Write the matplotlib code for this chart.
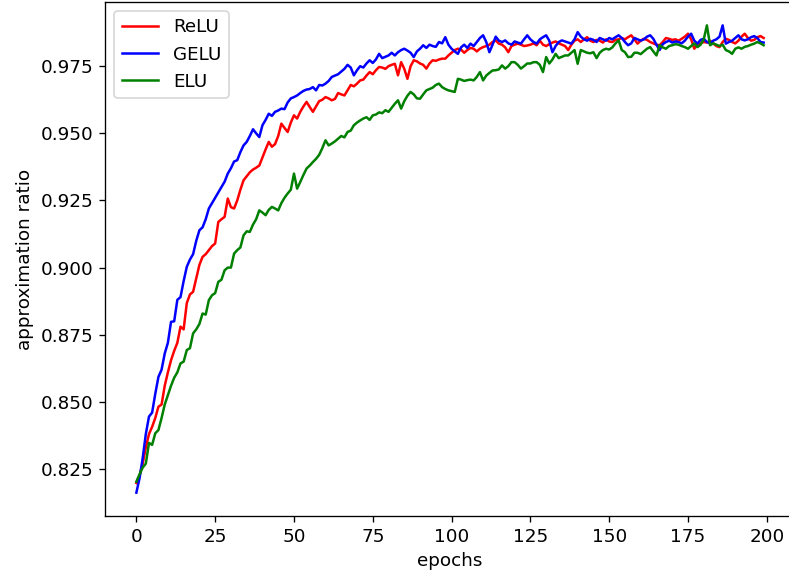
import numpy as np
import matplotlib
matplotlib.use("Agg")
import matplotlib.pyplot as plt

relu = [0.8198, 0.8225, 0.8270, 0.8330, 0.8380, 0.8407, 0.8440, 0.8482, 0.8490, 0.8560,
        0.8610, 0.8655, 0.8690, 0.8720, 0.8780, 0.8770, 0.8868, 0.8900, 0.8910, 0.8960,
        0.9010, 0.9040, 0.9050, 0.9065, 0.9080, 0.9090, 0.9170, 0.9180, 0.9189, 0.9257,
        0.9225, 0.9220, 0.9250, 0.9290, 0.9325, 0.9340, 0.9355, 0.9365, 0.9372, 0.9380,
        0.9410, 0.9440, 0.9468, 0.9450, 0.9460, 0.9490, 0.9536, 0.9520, 0.9505, 0.9540,
        0.9567, 0.9555, 0.9580, 0.9600, 0.9617, 0.9598, 0.9580, 0.9600, 0.9620, 0.9625,
        0.9635, 0.9630, 0.9623, 0.9628, 0.9650, 0.9645, 0.9641, 0.9660, 0.9680, 0.9675,
        0.9685, 0.9697, 0.9700, 0.9715, 0.9728, 0.9720, 0.9735, 0.9747, 0.9745, 0.9740,
        0.9750, 0.9755, 0.9759, 0.9716, 0.9765, 0.9740, 0.9703, 0.9750, 0.9772, 0.9768,
        0.9760, 0.9755, 0.9741, 0.9760, 0.9772, 0.9770, 0.9775, 0.9778, 0.9778, 0.9790,
        0.9800, 0.9810, 0.9815, 0.9812, 0.9800, 0.9810, 0.9818, 0.9815, 0.9805, 0.9815,
        0.9821, 0.9825, 0.9830, 0.9840, 0.9846, 0.9834, 0.9830, 0.9820, 0.9802, 0.9825,
        0.9830, 0.9834, 0.9830, 0.9825, 0.9827, 0.9830, 0.9835, 0.9828, 0.9845, 0.9830,
        0.9825, 0.9832, 0.9838, 0.9842, 0.9835, 0.9830, 0.9825, 0.9810, 0.9830, 0.9845,
        0.9850, 0.9840, 0.9850, 0.9858, 0.9845, 0.9840, 0.9848, 0.9845, 0.9838, 0.9850,
        0.9842, 0.9840, 0.9848, 0.9850, 0.9855, 0.9850, 0.9858, 0.9865, 0.9850, 0.9834,
        0.9845, 0.9852, 0.9848, 0.9840, 0.9835, 0.9830, 0.9828, 0.9840, 0.9855, 0.9852,
        0.9848, 0.9850, 0.9845, 0.9852, 0.9860, 0.9871, 0.9850, 0.9815, 0.9830, 0.9835,
        0.9840, 0.9838, 0.9845, 0.9835, 0.9825, 0.9821, 0.9840, 0.9852, 0.9848, 0.9840,
        0.9835, 0.9845, 0.9860, 0.9871, 0.9855, 0.9845, 0.9848, 0.9858, 0.9862, 0.9855]

gelu = [0.8162, 0.8215, 0.8290, 0.8380, 0.8445, 0.8460, 0.8530, 0.8593, 0.8620, 0.8680,
        0.8720, 0.8798, 0.8800, 0.8880, 0.8890, 0.8950, 0.9003, 0.9030, 0.9050, 0.9100,
        0.9139, 0.9150, 0.9180, 0.9220, 0.9240, 0.9260, 0.9280, 0.9300, 0.9320, 0.9350,
        0.9370, 0.9395, 0.9400, 0.9430, 0.9455, 0.9468, 0.9490, 0.9515, 0.9500, 0.9486,
        0.9530, 0.9550, 0.9573, 0.9565, 0.9580, 0.9585, 0.9592, 0.9590, 0.9615, 0.9630,
        0.9635, 0.9641, 0.9650, 0.9658, 0.9663, 0.9665, 0.9672, 0.9660, 0.9680, 0.9678,
        0.9685, 0.9695, 0.9710, 0.9715, 0.9720, 0.9730, 0.9740, 0.9755, 0.9745, 0.9716,
        0.9735, 0.9750, 0.9745, 0.9760, 0.9772, 0.9762, 0.9775, 0.9796, 0.9780, 0.9785,
        0.9790, 0.9800, 0.9790, 0.9802, 0.9810, 0.9815, 0.9808, 0.9800, 0.9784, 0.9805,
        0.9815, 0.9828, 0.9818, 0.9830, 0.9825, 0.9822, 0.9840, 0.9835, 0.9858, 0.9830,
        0.9815, 0.9805, 0.9796, 0.9820, 0.9830, 0.9818, 0.9834, 0.9825, 0.9840, 0.9855,
        0.9865, 0.9840, 0.9802, 0.9830, 0.9860, 0.9845, 0.9840, 0.9846, 0.9835, 0.9830,
        0.9842, 0.9838, 0.9834, 0.9850, 0.9865, 0.9850, 0.9840, 0.9834, 0.9850, 0.9858,
        0.9865, 0.9845, 0.9802, 0.9825, 0.9840, 0.9846, 0.9842, 0.9838, 0.9834, 0.9850,
        0.9877, 0.9860, 0.9850, 0.9845, 0.9852, 0.9848, 0.9840, 0.9855, 0.9850, 0.9845,
        0.9855, 0.9850, 0.9858, 0.9865, 0.9855, 0.9840, 0.9828, 0.9835, 0.9855, 0.9850,
        0.9845, 0.9850, 0.9860, 0.9865, 0.9852, 0.9830, 0.9810, 0.9832, 0.9840, 0.9845,
        0.9838, 0.9842, 0.9840, 0.9835, 0.9845, 0.9860, 0.9871, 0.9845, 0.9834, 0.9848,
        0.9852, 0.9840, 0.9835, 0.9845, 0.9850, 0.9860, 0.9902, 0.9834, 0.9840, 0.9845,
        0.9855, 0.9865, 0.9850, 0.9846, 0.9850, 0.9858, 0.9862, 0.9855, 0.9840, 0.9838]

elu = [0.8203, 0.8230, 0.8255, 0.8270, 0.8347, 0.8340, 0.8383, 0.8395, 0.8440, 0.8490,
       0.8525, 0.8560, 0.8590, 0.8610, 0.8643, 0.8650, 0.8693, 0.8700, 0.8755, 0.8770,
       0.8790, 0.8829, 0.8825, 0.8879, 0.8897, 0.8905, 0.8947, 0.8955, 0.8990, 0.9000,
       0.9000, 0.9052, 0.9065, 0.9075, 0.9120, 0.9135, 0.9133, 0.9160, 0.9180, 0.9213,
       0.9205, 0.9195, 0.9215, 0.9226, 0.9220, 0.9213, 0.9240, 0.9260, 0.9276, 0.9290,
       0.9350, 0.9294, 0.9319, 0.9345, 0.9369, 0.9380, 0.9393, 0.9405, 0.9420, 0.9445,
       0.9474, 0.9455, 0.9462, 0.9470, 0.9480, 0.9490, 0.9485, 0.9505, 0.9510, 0.9530,
       0.9540, 0.9548, 0.9555, 0.9560, 0.9550, 0.9567, 0.9570, 0.9578, 0.9575, 0.9586,
       0.9580, 0.9595, 0.9610, 0.9623, 0.9592, 0.9620, 0.9640, 0.9654, 0.9645, 0.9630,
       0.9629, 0.9645, 0.9660, 0.9665, 0.9670, 0.9680, 0.9685, 0.9672, 0.9665, 0.9660,
       0.9657, 0.9654, 0.9703, 0.9700, 0.9695, 0.9698, 0.9700, 0.9697, 0.9710, 0.9728,
       0.9697, 0.9715, 0.9725, 0.9734, 0.9735, 0.9738, 0.9753, 0.9741, 0.9750, 0.9765,
       0.9765, 0.9755, 0.9741, 0.9750, 0.9760, 0.9760, 0.9765, 0.9765, 0.9755, 0.9728,
       0.9784, 0.9760, 0.9775, 0.9796, 0.9780, 0.9785, 0.9790, 0.9790, 0.9800, 0.9810,
       0.9759, 0.9810, 0.9805, 0.9800, 0.9798, 0.9802, 0.9780, 0.9800, 0.9810, 0.9815,
       0.9812, 0.9820, 0.9835, 0.9846, 0.9810, 0.9802, 0.9784, 0.9785, 0.9800, 0.9800,
       0.9795, 0.9805, 0.9815, 0.9821, 0.9805, 0.9790, 0.9828, 0.9820, 0.9815, 0.9825,
       0.9828, 0.9832, 0.9830, 0.9825, 0.9821, 0.9815, 0.9825, 0.9835, 0.9821, 0.9830,
       0.9850, 0.9902, 0.9828, 0.9835, 0.9830, 0.9825, 0.9830, 0.9810, 0.9805, 0.9796,
       0.9815, 0.9820, 0.9815, 0.9822, 0.9825, 0.9830, 0.9834, 0.9840, 0.9835, 0.9828]

epochs = np.arange(len(relu))

plt.rcParams["font.size"] = 11

# source was a dpi-120 figure cropped tight, the right spine falls off the edge
fig = plt.figure(figsize=(789 / 120, 581 / 120), dpi=120)
ax = fig.add_axes([105 / 789, 65 / 581, 690 / 789, 514 / 581])

ax.plot(epochs, relu, color="red", label="ReLU")
ax.plot(epochs, gelu, color="blue", label="GELU")
ax.plot(epochs, elu, color="green", label="ELU")

ax.set_xlabel("epochs")
ax.set_ylabel("approximation ratio")
ax.legend(loc="upper left")

fig.savefig("out.png", dpi=120)
